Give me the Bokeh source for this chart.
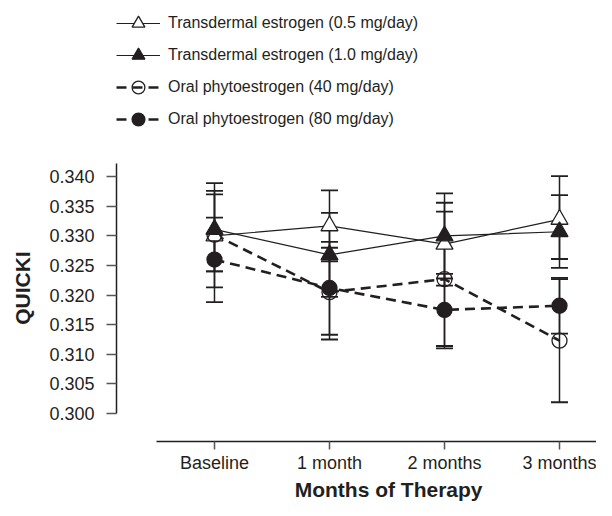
from bokeh.plotting import figure
from bokeh.models import (ColumnDataSource, Whisker, TeeHead, Legend, LegendItem,
                          FixedTicker, PrintfTickFormatter, Range1d, LinearAxis)
from bokeh.embed import file_html
from bokeh.resources import INLINE

months = ["Baseline", "1 month", "2 months", "3 months"]
x_pos = [0, 1, 2, 3]

t05 = [0.3300, 0.3317, 0.3286, 0.3328]
t05_up = [0.3370, 0.3377, 0.3356, 0.3401]
t05_lo = [0.3240, 0.3257, 0.3216, 0.3261]

t10 = [0.3311, 0.3268, 0.3300, 0.3307]
t10_up = [0.3376, 0.3339, 0.3372, 0.3369]
t10_lo = [0.3240, 0.3197, 0.3228, 0.3246]

p40 = [0.3302, 0.3205, 0.3227, 0.3123]
p40_up = [0.3389, 0.3280, 0.3341, 0.3227]
p40_lo = [0.3213, 0.3125, 0.3110, 0.3019]

p80 = [0.3260, 0.3212, 0.3175, 0.3182]
p80_up = [0.3331, 0.3290, 0.3236, 0.3229]
p80_lo = [0.3188, 0.3133, 0.3114, 0.3135]

y_ticks = [0.300, 0.305, 0.310, 0.315, 0.320, 0.325, 0.330, 0.335, 0.340]

labels = ["Transdermal estrogen (0.5 mg/day)", "Transdermal estrogen (1.0 mg/day)",
          "Oral phytoestrogen (40 mg/day)", "Oral phytoestrogen (80 mg/day)"]

x_title = "Months of Therapy"
y_title = "QUICKI"

FONT = "Liberation Sans"
INK = "#231f20"
NBSP = "\u00a0"

FRAME_H = 441
p = figure(frame_width=480, frame_height=FRAME_H, output_backend="svg", toolbar_location=None,
           x_range=Range1d(-0.852, 3.3217), y_range=Range1d(0.295270, 0.369764),
           min_border_left=116, min_border_right=0, min_border_top=0, min_border_bottom=0,
           x_axis_location=None, y_axis_location=None)
p.outline_line_color = None
p.grid.visible = False

# non-breaking spaces shift the centred titles to sit under / beside the drawn axis span
xaxis = LinearAxis(ticker=FixedTicker(ticks=x_pos),
                   major_label_overrides={i: m for i, m in zip(x_pos, months)},
                   bounds=(-0.5, 3.5), axis_label=NBSP * 11 + x_title)
yaxis = LinearAxis(ticker=FixedTicker(ticks=y_ticks),
                   formatter=PrintfTickFormatter(format="%.3f"),
                   bounds=(0.300, 0.3422), axis_label=y_title + NBSP * 23)
for ax, tick_out, standoff, lab_standoff in ((xaxis, 8, 3, 2), (yaxis, 10, 12, 12)):
    ax.axis_line_color = INK
    ax.axis_line_width = 1.5
    ax.major_tick_line_color = "#555555"
    ax.major_tick_line_width = 1.5
    ax.major_tick_out = tick_out
    ax.major_tick_in = 0
    ax.minor_tick_line_color = None
    ax.major_label_text_font = FONT
    ax.major_label_text_font_size = "18px"
    ax.major_label_text_color = INK
    ax.major_label_standoff = standoff
    ax.axis_label_text_font = FONT
    ax.axis_label_text_font_size = "21px"
    ax.axis_label_text_font_style = "bold"
    ax.axis_label_text_color = INK
    ax.axis_label_standoff = lab_standoff
p.add_layout(xaxis, "below")
p.add_layout(yaxis, "left")

series = [
    (t05, t05_up, t05_lo, "triangle", "white", None, 1.2),
    (t10, t10_up, t10_lo, "triangle", INK, None, 1.2),
    (p40, p40_up, p40_lo, "circle", None, "10 6", 2.6),
    (p80, p80_up, p80_lo, "circle", INK, "10 6", 2.6),
]

items = []
line_rs = []
for (vals, up, lo, marker, fill, dash, lw) in series:
    src = ColumnDataSource(dict(x=x_pos, y=vals, up=up, lo=lo))
    lr = p.line("x", "y", source=src, line_color=INK, line_width=lw,
                line_dash=dash if dash else "solid")
    line_rs.append((lr, src))

for (vals, up, lo, marker, fill, dash, lw), (lr, src) in zip(series, line_rs):
    w = Whisker(base="x", upper="up", lower="lo", source=src, dimension="height",
                line_color=INK, line_width=1.5,
                upper_head=TeeHead(size=17, line_color=INK, line_width=1.8),
                lower_head=TeeHead(size=17, line_color=INK, line_width=1.8))
    p.add_layout(w)

for (vals, up, lo, marker, fill, dash, lw), (lr, src), lab in zip(series, line_rs, labels):
    size = 17 if marker == "triangle" else 15
    sr = p.scatter("x", "y", source=src, marker=marker, size=size,
                   fill_color=fill if fill else "white", fill_alpha=1.0 if fill else 0.0,
                   line_color=INK, line_width=1.3)
    items.append(LegendItem(label=lab, renderers=[lr, sr]))

# legend: bottom-left corner given in frame pixels (legend top ~7px below canvas top)
legend = Legend(items=items, location=(0, FRAME_H - 135), glyph_width=44, glyph_height=32,
                label_height=20, spacing=0, padding=0, margin=0,
                border_line_alpha=0, background_fill_alpha=0,
                label_text_font=FONT, label_text_font_size="16px",
                label_text_color=INK, label_standoff=8)
p.add_layout(legend)

open("out.html", "w").write(file_html(p, INLINE))
